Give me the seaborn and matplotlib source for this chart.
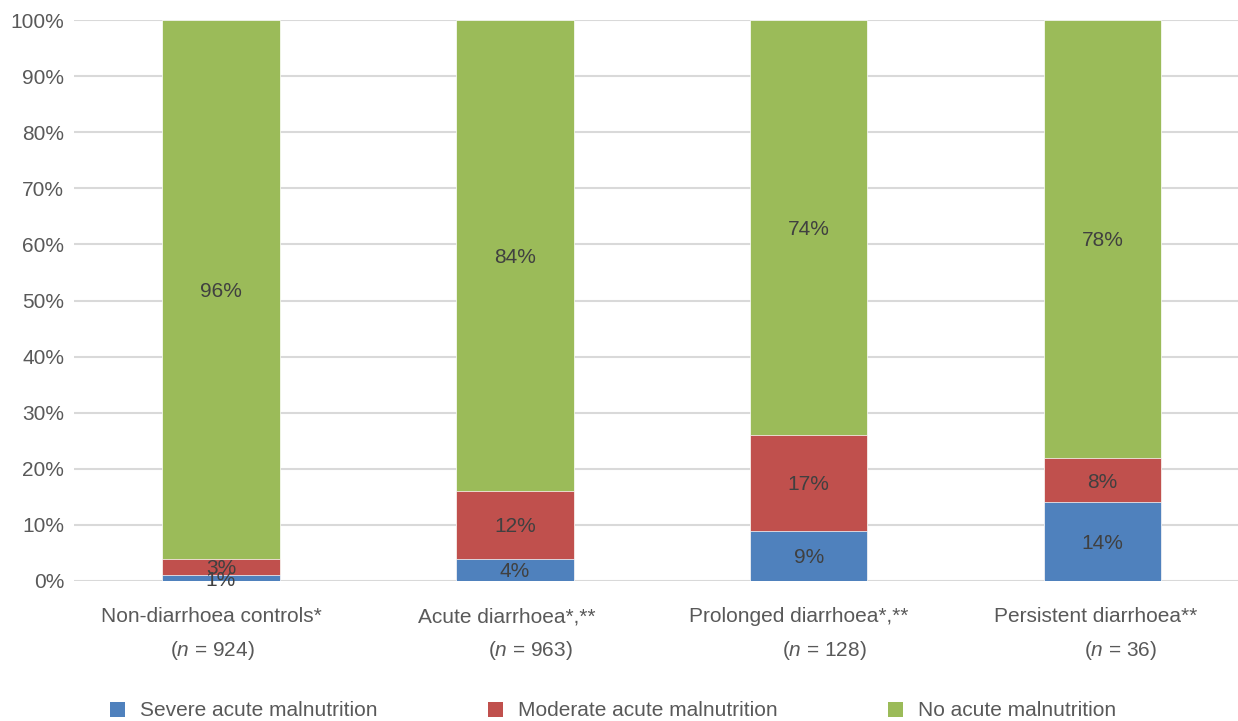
import matplotlib
matplotlib.use("Agg")
import matplotlib.pyplot as plt
from matplotlib.patches import Patch
import seaborn as sns
import numpy as np
import pandas as pd

# ---- data ----
categories = ["Non-diarrhoea controls*", "Acute diarrhoea*,**",
              "Prolonged diarrhoea*,**", "Persistent diarrhoea**"]
n_labels = ["924", "963", "128", "36"]
severe = [1, 4, 9, 14]
moderate = [3, 12, 17, 8]
no_mal = [96, 84, 74, 78]
series_names = ["Severe acute malnutrition", "Moderate acute malnutrition", "No acute malnutrition"]
y_ticks = list(range(0, 101, 10))

colors = ["#4F81BD", "#C0504D", "#9BBB59"]

sns.set_theme(style="white")
plt.rcParams["font.family"] = ["Liberation Sans", "DejaVu Sans"]
plt.rcParams["mathtext.fontset"] = "custom"
plt.rcParams["mathtext.rm"] = "Liberation Sans"
plt.rcParams["mathtext.it"] = "Liberation Sans:italic"

FS = 15
W, H = 1238, 721
fig = plt.figure(figsize=(W / 100, H / 100), dpi=100)
ax = fig.add_axes([74 / W, (H - 581) / H, (W - 74) / W, (581 - 20) / H])

series = [severe, moderate, no_mal]
cums = np.cumsum(np.array(series, dtype=float), axis=0)
df = pd.DataFrame({"cat": categories})

# draw from top of stack down so each segment shows
for i in [2, 1, 0]:
    df["v"] = cums[i]
    sns.barplot(data=df, x="cat", y="v", order=categories, color=colors[i],
                saturation=1, width=0.4, edgecolor="white", linewidth=0.5,
                ax=ax, zorder=3)

# segment labels
for i, vals in enumerate(series):
    for j, v in enumerate(vals):
        ax.text(j, cums[i][j] - v / 2, f"{v}%", ha="center", va="center_baseline",
                fontsize=FS, color="#404040", zorder=5)

ax.set_xlim(-0.5, (W - 220.5) / 294)
ax.set_ylim(0, 100)
ax.set_yticks(y_ticks)
ax.set_yticklabels([f"{t}%" for t in y_ticks])
ax.tick_params(axis="y", labelsize=FS, labelcolor="#595959", length=0, pad=7)
ax.grid(axis="y", color="#d9d9d9", linewidth=1.5, zorder=0)
ax.grid(axis="x", visible=False)
for s in ax.spines.values():
    s.set_visible(False)
ax.set_xlabel("")
ax.set_ylabel("")
ax.set_xticks(range(len(categories)))
ax.set_xticklabels([])
ax.tick_params(axis="x", length=0)

line1_dx = [-7, -6, -7, -5]
line2_dx = [-6, 11, 11, 13]
for j, (c, n) in enumerate(zip(categories, n_labels)):
    ax.annotate(c, xy=(j, 0), xycoords=("data", "axes fraction"),
                xytext=(line1_dx[j], -25.9), textcoords="offset points",
                ha="center", va="center", fontsize=FS, color="#595959")
    ax.annotate(r"($\mathit{n}$ = " + n + ")", xy=(j, 0), xycoords=("data", "axes fraction"),
                xytext=(line2_dx[j], -50.4), textcoords="offset points",
                ha="center", va="center", fontsize=FS, color="#595959")

handles = [Patch(facecolor=c, edgecolor="none") for c in colors]
fig.legend(handles, series_names, loc="center", bbox_to_anchor=(613 / W, 1 - 711 / H),
           ncol=3, frameon=False, fontsize=FS, labelcolor="#595959",
           handlelength=0.72, handleheight=0.72, handletextpad=0.72, columnspacing=5.3)

fig.savefig("out.png", dpi=100)
